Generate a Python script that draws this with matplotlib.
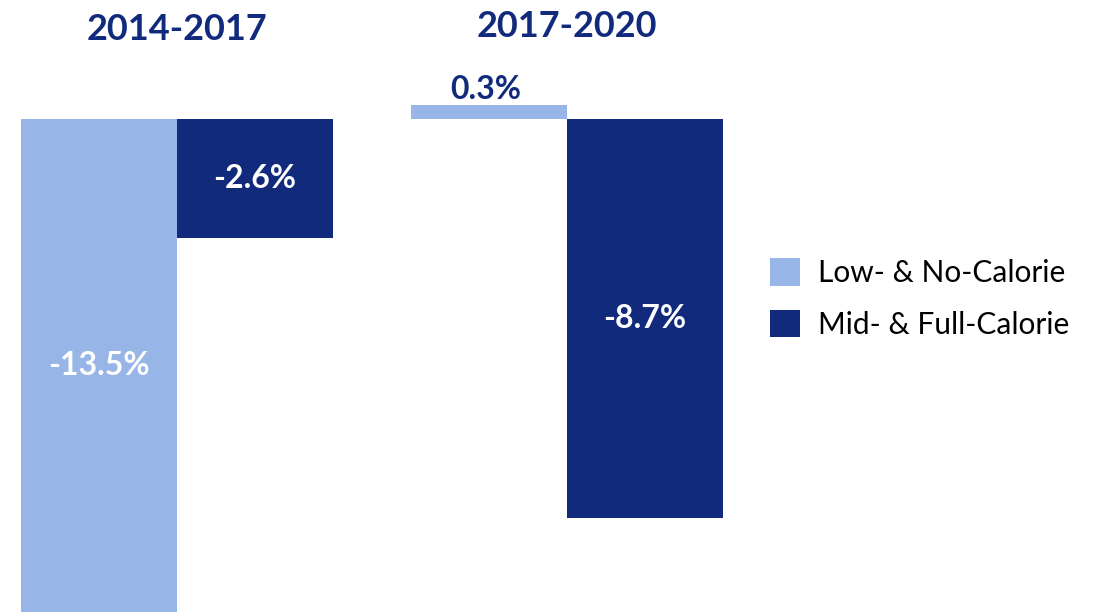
import numpy as np
import matplotlib
matplotlib.use('Agg')
import matplotlib.pyplot as plt
from matplotlib.patches import Patch

## Data
periods = ['2014-2017', '2017-2020']
series_names = ['Low- & No-Calorie', 'Mid- & Full-Calorie']
low_no = [-13.5, 0.3]
mid_full = [-2.6, -8.7]

## Styles
light = '#98b5e7'
dark = '#112a7c'
plt.rcParams['font.family'] = ['Lato', 'DejaVu Sans']

fig = plt.figure(figsize=(11.02, 6.12), dpi=100)
ax = fig.add_axes([0, 0, 1, 1])
ax.set_xlim(-0.454, 2.372)
ax.set_ylim(-10.75, 2.595)
ax.axis('off')

x = np.arange(len(periods))
width = 0.4
bars_low = ax.bar(x - width/2, low_no, width, color=light)
bars_mid = ax.bar(x + width/2, mid_full, width, color=dark)

ymin = ax.get_ylim()[0]
for bars, vals in [(bars_low, low_no), (bars_mid, mid_full)]:
    for b, v in zip(bars, vals):
        cx = b.get_x() + b.get_width()/2
        if v >= 0:
            ax.annotate('%.1f%%' % v, (cx, v), xytext=(-2, 1),
                        textcoords='offset points', ha='center', va='bottom',
                        color=dark, fontsize=23, fontweight='bold')
        else:
            ax.text(cx, max(v, ymin)/2, '%.1f%%' % v, ha='center',
                    va='center', color='white', fontsize=23,
                    fontweight='bold')

## Period titles above each group
ax.text(x[0], 1.95, periods[0], ha='center', va='center', color=dark,
        fontsize=26, fontweight='bold')
ax.text(x[1], 2.02, periods[1], ha='center', va='center', color=dark,
        fontsize=26, fontweight='bold')

handles = [Patch(facecolor=light), Patch(facecolor=dark)]
ax.legend(handles, series_names, loc='upper left',
          bbox_to_anchor=(0.699, 0.578), bbox_transform=fig.transFigure,
          frameon=False, fontsize=21.5, handlelength=1.0, handleheight=1.05,
          handletextpad=0.6, labelspacing=0.75, borderpad=0,
          borderaxespad=0)

fig.savefig('out.png', dpi=100, facecolor='white')
